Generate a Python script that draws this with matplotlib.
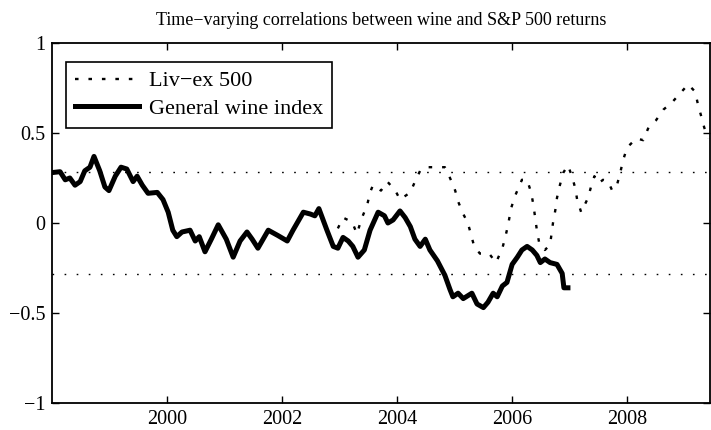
import numpy as np
import matplotlib
matplotlib.use('Agg')
import matplotlib.pyplot as plt

plt.rcParams['font.family'] = ['Liberation Serif', 'DejaVu Serif']

# general wine index
wine_t = [1998.00, 1998.14, 1998.23, 1998.31, 1998.40, 1998.49, 1998.57, 1998.66, 1998.73, 1998.83,
          1998.92, 1998.99, 1999.10, 1999.20, 1999.30, 1999.41, 1999.48, 1999.57, 1999.67, 1999.83,
          1999.93, 2000.02, 2000.10, 2000.17, 2000.26, 2000.40, 2000.49, 2000.56, 2000.66, 2000.77,
          2000.89, 2001.03, 2001.15, 2001.27, 2001.39, 2001.48, 2001.58, 2001.76, 2001.93, 2002.09,
          2002.19, 2002.37, 2002.49, 2002.57, 2002.64, 2002.78, 2002.89, 2002.97, 2003.06, 2003.15,
          2003.23, 2003.32, 2003.43, 2003.53, 2003.67, 2003.78, 2003.84, 2003.93, 2004.05, 2004.14,
          2004.23, 2004.31, 2004.40, 2004.49, 2004.57, 2004.70, 2004.83, 2004.92, 2004.97, 2005.06,
          2005.15, 2005.30, 2005.39, 2005.50, 2005.58, 2005.67, 2005.74, 2005.83, 2005.91, 2006.00,
          2006.09, 2006.17, 2006.26, 2006.35, 2006.43, 2006.49, 2006.57, 2006.66, 2006.78, 2006.87,
          2006.90, 2006.97]
wine_r = [0.28, 0.285, 0.24, 0.25, 0.21, 0.23, 0.29, 0.31, 0.37, 0.29,
          0.20, 0.18, 0.26, 0.31, 0.30, 0.23, 0.26, 0.21, 0.165, 0.17,
          0.13, 0.06, -0.04, -0.076, -0.05, -0.04, -0.10, -0.076, -0.16, -0.09,
          -0.01, -0.09, -0.19, -0.10, -0.05, -0.09, -0.14, -0.04, -0.07, -0.10,
          -0.04, 0.06, 0.05, 0.04, 0.08, -0.04, -0.13, -0.14, -0.08, -0.10,
          -0.13, -0.19, -0.15, -0.04, 0.06, 0.04, 0.00, 0.017, 0.067, 0.03,
          -0.02, -0.09, -0.13, -0.09, -0.15, -0.21, -0.29, -0.37, -0.41, -0.39,
          -0.42, -0.39, -0.45, -0.47, -0.44, -0.39, -0.41, -0.35, -0.33, -0.23,
          -0.19, -0.15, -0.13, -0.15, -0.18, -0.22, -0.20, -0.22, -0.23, -0.28,
          -0.36, -0.36]

# Liv-ex 500
livex_t = [2002.97, 2003.06, 2003.22, 2003.30, 2003.39, 2003.48, 2003.53, 2003.58, 2003.72, 2003.83,
           2003.97, 2004.05, 2004.23, 2004.31, 2004.40, 2004.49, 2004.70, 2004.83, 2004.92, 2005.01,
           2005.06, 2005.15, 2005.23, 2005.29, 2005.34, 2005.44, 2005.60, 2005.72, 2005.83, 2005.88,
           2005.93, 2005.98, 2006.05, 2006.17, 2006.26, 2006.33, 2006.37, 2006.40, 2006.43, 2006.47,
           2006.57, 2006.66, 2006.71, 2006.75, 2006.78, 2006.83, 2006.89, 2006.97, 2007.04, 2007.10,
           2007.13, 2007.20, 2007.32, 2007.37, 2007.43, 2007.50, 2007.58, 2007.67, 2007.74, 2007.83,
           2007.88, 2007.93, 2008.00, 2008.16, 2008.28, 2008.37, 2008.50, 2008.63, 2008.78, 2008.92,
           2009.06, 2009.18, 2009.23, 2009.29, 2009.34, 2009.41]
livex_r = [-0.03, 0.03, 0.005, -0.06, 0.03, 0.10, 0.17, 0.21, 0.18, 0.23,
           0.18, 0.13, 0.17, 0.23, 0.29, 0.31, 0.31, 0.31, 0.25, 0.18,
           0.12, 0.05, 0.00, -0.07, -0.13, -0.17, -0.17, -0.22, -0.14, -0.08,
           -0.01, 0.08, 0.15, 0.24, 0.24, 0.17, 0.10, 0.03, -0.04, -0.11,
           -0.15, -0.12, 0.00, 0.07, 0.14, 0.21, 0.28, 0.32, 0.26, 0.19,
           0.13, 0.06, 0.14, 0.20, 0.26, 0.22, 0.24, 0.23, 0.18, 0.22,
           0.28, 0.35, 0.42, 0.47, 0.46, 0.53, 0.57, 0.63, 0.67, 0.72,
           0.77, 0.73, 0.66, 0.59, 0.53, 0.47]

band = 0.285  # significance bounds
xticks = [2000, 2002, 2004, 2006, 2008]
yticks = [-1, -0.5, 0, 0.5, 1]

fig = plt.figure(figsize=(7.11, 4.30), dpi=100)
ax = fig.add_axes([52/711, 27/430, 658/711, 360/430])

ax.plot(livex_t, livex_r, color='k', lw=1.7, linestyle=(0, (1.5, 4.2)), label='Liv\u2212ex 500')
ax.plot(wine_t, wine_r, color='k', lw=3.6, solid_joinstyle='round', label='General wine index')
ax.axhline(band, color='k', lw=1.0, linestyle=(0, (1.2, 7.5)))
ax.axhline(-band, color='k', lw=1.0, linestyle=(0, (1.2, 7.5)))

ax.set_xlim(1998, 2009.44)
ax.set_ylim(-1, 1)
ax.set_xticks(xticks)
ax.set_yticks(yticks)
ax.set_yticklabels(['\u22121', '\u22120.5', '0', '0.5', '1'])
ax.tick_params(direction='in', top=True, right=True, length=5, width=1, labelsize=14.5, pad=5)
for s in ax.spines.values():
    s.set_linewidth(1.3)

ax.set_title('Time\u2212varying correlations between wine and S&P 500 returns', fontsize=13, pad=13)

leg = ax.legend(loc='upper left', bbox_to_anchor=(66/711, 1 - 62/430), bbox_transform=fig.transFigure,
                borderaxespad=0, fancybox=False, edgecolor='k', framealpha=1, fontsize=16,
                handlelength=2.9, handletextpad=0.45, labelspacing=0.3, borderpad=0.4)
leg.get_frame().set_linewidth(1.2)

fig.savefig('out.png', dpi=100)
